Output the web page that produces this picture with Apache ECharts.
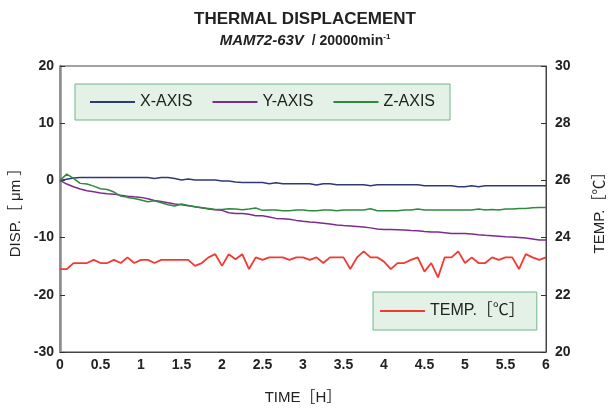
<!DOCTYPE html>
<html>
<head>
<meta charset="utf-8">
<script src="https://cdn.jsdelivr.net/npm/echarts@6/dist/echarts.min.js"></script>
<style>
  html, body { margin: 0; padding: 0; background: #fff; }
  #chart { width: 608px; height: 408px; }
</style>
</head>
<body>
<div id="chart"></div>
<script>
// sampling every 5 minutes, 0..6 h
const sampleMinutes = 5
const xAxisDisp = [0, 0.2, 0.4, 0.5, 0.5, 0.5, 0.5, 0.5, 0.5, 0.5, 0.5, 0.5, 0.5, 0.5, 0.35, 0.5, 0.5, 0.35, 0.06, 0.23,
  0.06, 0.06, 0.06, 0.06, -0.1, -0.12, -0.3, -0.35, -0.35, -0.35, -0.35, -0.58, -0.4, -0.58, -0.58, -0.58, -0.58, -0.58, -0.82, -0.58,
  -0.58, -0.76, -0.76, -0.76, -0.76, -0.76, -0.93, -0.76, -0.76, -0.76, -0.76, -0.76, -0.76, -0.76, -0.93, -0.93, -0.93, -0.93, -0.93, -1.1,
  -1.1, -0.93, -1.1, -0.93, -0.93, -0.93, -0.93, -0.93, -0.93, -0.93, -0.93, -0.93, -0.93]
const yAxisDisp = [0, -0.64, -1.1, -1.5, -1.8, -2.0, -2.2, -2.33, -2.4, -2.6, -2.75, -2.87, -2.97, -3.2, -3.5, -3.67, -3.9, -4.14, -4.25, -4.43,
  -4.6, -4.78, -5.0, -5.13, -5.24, -5.65, -5.77, -5.77, -5.9, -6.18, -6.2, -6.4, -6.64, -6.7, -6.8, -6.99, -7.14, -7.28, -7.37, -7.49,
  -7.63, -7.78, -7.9, -7.98, -8.07, -8.16, -8.3, -8.5, -8.57, -8.57, -8.62, -8.68, -8.77, -8.8, -8.92, -9.0, -9.03, -9.15, -9.27, -9.27,
  -9.27, -9.35, -9.5, -9.59, -9.67, -9.76, -9.85, -9.9, -9.97, -10.08, -10.23, -10.4, -10.43]
const zAxisDisp = [0, 1.1, 0.35, -0.52, -0.64, -1.0, -1.46, -1.6, -2.04, -2.74, -2.97, -3.15, -3.44, -3.73, -3.55, -3.9, -4.25, -4.49, -4.14, -4.37,
  -4.6, -4.78, -4.9, -5.07, -5.07, -4.95, -5.0, -5.13, -5.0, -4.84, -5.24, -5.19, -5.19, -5.3, -5.3, -5.19, -5.19, -5.3, -5.3, -5.19,
  -5.19, -5.3, -5.19, -5.19, -5.19, -5.19, -4.95, -5.3, -5.3, -5.3, -5.3, -5.19, -5.19, -5.0, -5.19, -5.19, -5.19, -5.19, -5.19, -5.19,
  -5.19, -5.19, -5.0, -5.19, -5.07, -5.19, -5.0, -5.0, -4.9, -4.9, -4.8, -4.72, -4.72]
const temperature = [22.9, 22.9, 23.11, 23.11, 23.11, 23.22, 23.11, 23.11, 23.22, 23.11, 23.31, 23.11, 23.22, 23.22, 23.11, 23.22, 23.22, 23.22, 23.22, 23.22,
  23.01, 23.11, 23.31, 23.42, 23.01, 23.42, 23.24, 23.42, 22.9, 23.31, 23.22, 23.31, 23.31, 23.31, 23.22, 23.31, 23.31, 23.22, 23.31, 23.11,
  23.31, 23.31, 23.31, 22.9, 23.31, 23.52, 23.31, 23.31, 23.16, 22.9, 23.11, 23.11, 23.22, 23.31, 22.81, 23.11, 22.61, 23.31, 23.31, 23.52,
  23.11, 23.31, 23.11, 23.11, 23.31, 23.22, 23.31, 23.31, 22.9, 23.42, 23.31, 23.22, 23.31]
const seriesNames = ['X-AXIS', 'Y-AXIS', 'Z-AXIS', 'TEMP.［℃］']
const colors = ['#2e3a78', '#7d2b8e', '#2f8a3e', '#f23a32']

const font = 'Liberation Sans, Arial, Noto Sans CJK JP, sans-serif'
const hours = temperature.map((v, i) => i * sampleMinutes / 60)
const pairs = (arr) => arr.map((v, i) => [hours[i], v])

const chart = echarts.init(document.getElementById('chart'))
const lineSeries = (name, data, color, yIndex, width) => ({
  name: name,
  type: 'line',
  yAxisIndex: yIndex,
  data: pairs(data),
  symbol: 'none',
  animation: false,
  lineStyle: { color: color, width: width },
  itemStyle: { color: color }
})

chart.setOption({
  textStyle: { fontFamily: font },
  title: {
    text: 'THERMAL DISPLACEMENT',
    left: 300,
    textAlign: 'center',
    top: 6,
    itemGap: 5,
    textStyle: { fontFamily: font, fontSize: 17, fontWeight: 'bold', color: '#222' },
    subtext: '{a|MAM72-63V}{b|  / 20000min}{c|-1}',
    subtextStyle: {
      rich: {
        a: { fontFamily: font, fontSize: 15, fontWeight: 'bold', fontStyle: 'italic', color: '#222' },
        b: { fontFamily: font, fontSize: 14, fontWeight: 'bold', color: '#222' },
        c: { fontFamily: font, fontSize: 8, fontWeight: 'bold', color: '#222', padding: [0, 0, 8, 0] }
      }
    }
  },
  legend: [
    {
      data: seriesNames.slice(0, 3),
      left: 75,
      top: 84,
      selectedMode: false,
      icon: 'rect',
      backgroundColor: '#e3f1e7',
      borderColor: '#6db886',
      borderWidth: 1,
      padding: [10, 15, 10, 15],
      itemWidth: 45,
      itemHeight: 2,
      itemGap: 20,
      textStyle: { fontFamily: font, fontSize: 16, color: '#222', height: 14, lineHeight: 14 }
    },
    {
      data: [seriesNames[3]],
      left: 373,
      top: 292,
      selectedMode: false,
      icon: 'rect',
      backgroundColor: '#e3f1e7',
      borderColor: '#6db886',
      borderWidth: 1,
      padding: [11, 12, 11, 7],
      itemWidth: 45,
      itemHeight: 2,
      textStyle: { fontFamily: font, fontSize: 16, color: '#222', height: 14, lineHeight: 14 }
    }
  ],
  grid: { left: 60, right: 62, top: 66, bottom: 56, outerBoundsMode: 'none', show: true, borderColor: '#444', borderWidth: 1 },
  xAxis: {
    type: 'value',
    min: 0,
    max: 6,
    interval: 0.5,
    name: 'TIME［H］',
    nameLocation: 'middle',
    nameGap: 38,
    nameTextStyle: { fontFamily: font, fontSize: 15, color: '#222' },
    axisLine: { onZero: false, lineStyle: { color: '#444', width: 1 } },
    axisTick: { show: false },
    splitLine: { show: false },
    axisLabel: { fontFamily: font, fontSize: 14, fontWeight: 'bold', color: '#222', margin: 6 }
  },
  yAxis: [
    {
      type: 'value',
      min: -30,
      max: 20,
      interval: 10,
      name: 'DISP.［ μm ］',
      nameLocation: 'middle',
      nameRotate: 90,
      nameGap: 36,
      nameTextStyle: { fontFamily: font, fontSize: 15, color: '#222' },
      axisLine: { show: true, onZero: false, lineStyle: { color: '#8c8c8c', width: 2.5 } },
      axisTick: { show: true, inside: true, length: 5, lineStyle: { color: '#333' } },
      splitLine: { show: false },
      axisLabel: { fontFamily: font, fontSize: 14, fontWeight: 'bold', color: '#222', margin: 6 }
    },
    {
      type: 'value',
      min: 20,
      max: 30,
      interval: 2,
      position: 'right',
      name: 'TEMP.［℃］',
      nameLocation: 'middle',
      nameRotate: 90,
      nameGap: 46,
      nameTextStyle: { fontFamily: font, fontSize: 15, color: '#222' },
      axisLine: { show: true, onZero: false, lineStyle: { color: '#444', width: 1 } },
      axisTick: { show: true, inside: true, length: 5, lineStyle: { color: '#333' } },
      splitLine: { show: false },
      axisLabel: { fontFamily: font, fontSize: 14, fontWeight: 'bold', color: '#222', margin: 9 }
    }
  ],
  series: [
    lineSeries(seriesNames[0], xAxisDisp, colors[0], 0, 1.5),
    lineSeries(seriesNames[1], yAxisDisp, colors[1], 0, 1.5),
    lineSeries(seriesNames[2], zAxisDisp, colors[2], 0, 1.5),
    lineSeries(seriesNames[3], temperature, colors[3], 1, 1.8)
  ]
})
</script>
</body>
</html>
